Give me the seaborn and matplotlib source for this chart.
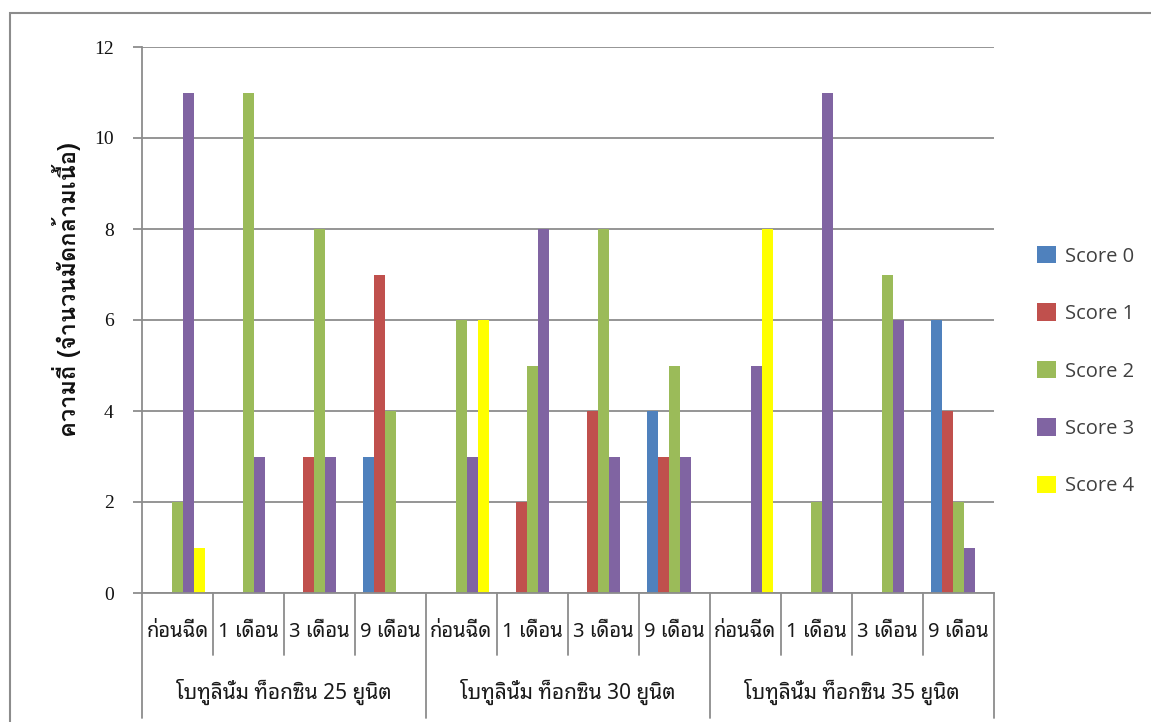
import numpy as np
import pandas as pd
import matplotlib
matplotlib.use("Agg")
import matplotlib.pyplot as plt
import matplotlib.transforms as mtransforms
from matplotlib import font_manager, ft2font
from matplotlib.patches import Rectangle
import seaborn as sns

# ---- data -------------------------------------------------------------
doses = ["โบทูลินั่ม ท็อกซิน 25 ยูนิต",
         "โบทูลินั่ม ท็อกซิน 30 ยูนิต",
         "โบทูลินั่ม ท็อกซิน 35 ยูนิต"]
periods = ["ก่อนฉีด", "1 เดือน", "3 เดือน", "9 เดือน"]
scores = ["Score 0", "Score 1", "Score 2", "Score 3", "Score 4"]

# counts per (dose, period), one list per score
score0 = [0, 0, 0, 3,   0, 0, 0, 4,   0, 0, 0, 6]
score1 = [0, 0, 3, 7,   0, 2, 4, 3,   0, 0, 0, 4]
score2 = [2, 11, 8, 4,  6, 5, 8, 5,   0, 2, 7, 2]
score3 = [11, 3, 3, 0,  3, 8, 3, 3,   5, 11, 6, 1]
score4 = [1, 0, 0, 0,   6, 0, 0, 0,   8, 0, 0, 0]

y_label = "ความถี่ (จำนวนมัดกล้ามเนื้อ)"
colors = ["#4F81BD", "#C0504D", "#9BBB59", "#8064A2", "#FFFF00"]


# ---- fonts ------------------------------------------------------------
def thai_capable_families():
    found = []
    for f in font_manager.fontManager.ttflist:
        try:
            cmap = ft2font.FT2Font(f.fname).get_charmap()
        except Exception:
            continue
        if 0x0E01 in cmap and f.name not in found:
            found.append(f.name)
    return found


def pick(candidates, available, default):
    return next((c for c in candidates if c in available),
                available[0] if available else default)


thai_fams = thai_capable_families()
thai_font = pick(["Noto Sans Thai Looped", "Loma", "Noto Sans Thai"],
                 thai_fams, "DejaVu Sans")
thai_bold = pick(["Loma", "Noto Sans Thai Looped", "Noto Sans Thai"],
                 thai_fams, "DejaVu Sans")
sans = [thai_font, "DejaVu Sans"]
latin = ["Open Sans", "DejaVu Sans"]
serif = ["Liberation Serif", "DejaVu Serif"]

sns.set_theme(style="white")
plt.rcParams["font.family"] = sans

# ---- long table -------------------------------------------------------
slots = [f"{d[-8:]}|{p}" for d in doses for p in periods]
series = [score0, score1, score2, score3, score4]
rows = []
for s_name, vals in zip(scores, series):
    for slot, v in zip(slots, vals):
        rows.append({"slot": slot, "score": s_name, "count": v})
df = pd.DataFrame(rows)

# ---- figure -----------------------------------------------------------
W, H = 1151, 722
fig = plt.figure(figsize=(W / 100, H / 100), dpi=100)
fig.patch.set_facecolor("white")

left_px, right_px, top_px, bottom_px = 142, 994, 47, 593
ax = fig.add_axes([left_px / W, 1 - bottom_px / H,
                   (right_px - left_px) / W, (bottom_px - top_px) / H])

sns.barplot(data=df, x="slot", y="count", hue="score", order=slots,
            hue_order=scores, palette=colors, width=0.775, linewidth=0,
            saturation=1, ax=ax, legend=True)

grid_c = "#8C8C8C"
ax.set_xlim(-0.5, len(slots) - 0.5)
ax.set_ylim(0, 12)
ax.set_yticks(np.arange(0, 13, 2))
ax.yaxis.grid(True, color=grid_c, linewidth=1.3)
ax.set_axisbelow(True)
for side in ["top", "right"]:
    ax.spines[side].set_visible(False)
ax.spines["left"].set_color(grid_c)
ax.spines["left"].set_linewidth(1.3)
ax.spines["bottom"].set_color(grid_c)
ax.spines["bottom"].set_linewidth(1.3)
ax.tick_params(axis="y", which="major", length=6.5, width=1.3, color=grid_c,
               pad=14, left=True)
for t in ax.get_yticklabels():
    t.set_fontfamily(serif)
    t.set_fontsize(14)
    t.set_color("#111111")
ax.set_xticks([])
ax.set_xlabel("")
ax.set_ylabel(y_label, fontsize=17, fontweight="bold",
              family=[thai_bold, "DejaVu Sans"], color="#111111")
ax.yaxis.set_label_coords(-(142 - 81) / (right_px - left_px), 0.555)

# two-level category axis below the plot
trans = mtransforms.blended_transform_factory(ax.transData, ax.transAxes)
ax_h = bottom_px - top_px
lvl1 = -(655 - bottom_px) / ax_h
lvl2 = -(718 - bottom_px) / ax_h
for i in range(len(slots) + 1):
    xb = i - 0.5
    y_end = lvl2 if i % len(periods) == 0 else lvl1
    ax.plot([xb, xb], [0, y_end], transform=trans, color=grid_c,
            linewidth=1.3, clip_on=False)
for i, slot in enumerate(slots):
    ax.text(i, -(632 - bottom_px) / ax_h, slot.split("|")[1], transform=trans,
            ha="center", va="center", fontsize=14.5, color="#1a1a1a")
for g, dose in enumerate(doses):
    xc = g * len(periods) + (len(periods) - 1) / 2
    ax.text(xc, -(692 - bottom_px) / ax_h, dose, transform=trans,
            ha="center", va="center", fontsize=15, color="#1a1a1a")

# legend on the right
leg = ax.legend(loc="upper left", bbox_to_anchor=(1037 / W, 1 - 246 / H),
                bbox_transform=fig.transFigure, frameon=False,
                prop={"family": latin, "size": 14.5},
                handlelength=0.95, handleheight=0.95, handletextpad=0.45,
                labelspacing=1.83, borderpad=0, borderaxespad=0)
for txt in leg.get_texts():
    txt.set_color("#404040")

# outer chart border
fig.add_artist(Rectangle((10 / W, -0.05), (W - 10) / W + 0.1, 1.05 - 13 / H,
                         transform=fig.transFigure, fill=False,
                         edgecolor="#8C8C8C", linewidth=1.5))

fig.savefig("out.png", dpi=100)
